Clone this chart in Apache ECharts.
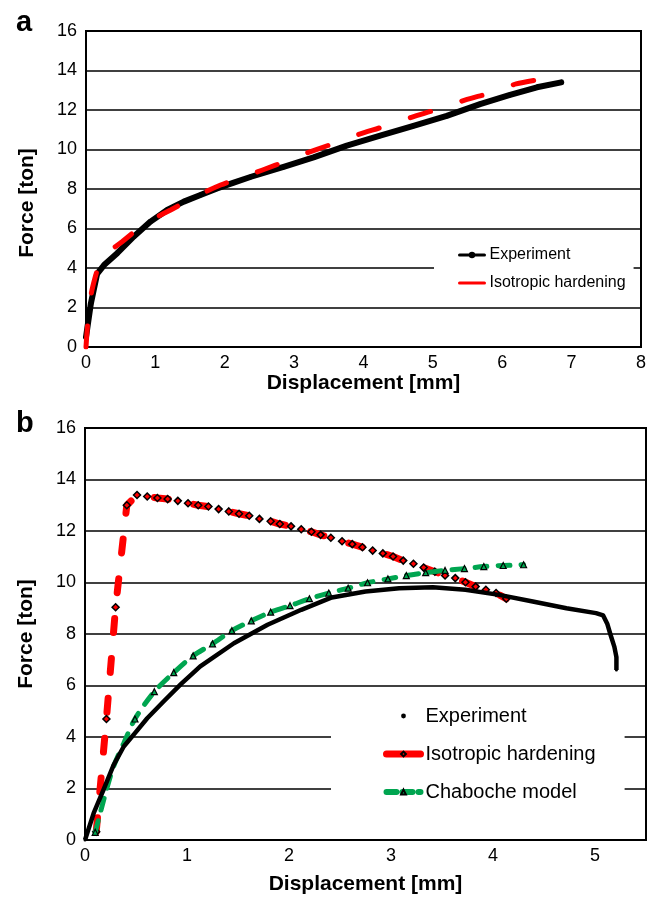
<!DOCTYPE html>
<html>
<head>
<meta charset="utf-8">
<script src="https://cdn.jsdelivr.net/npm/echarts@6/dist/echarts.min.js"></script>
<style>
html,body{margin:0;padding:0;background:#fff}
#main{width:662px;height:897px}
</style>
</head>
<body>
<div id="main"></div>
<script>
// ---- panel a : force vs displacement ----
var expAx = [0, 0.07, 0.16, 0.26, 0.45, 0.69, 0.93, 1.17, 1.41, 1.65, 1.89, 2.13, 2.38, 2.62, 2.86, 3.28, 3.76, 4.24, 4.72, 5.2, 5.68, 6.1, 6.5, 6.85];
var expAy = [0.5, 2.2, 3.7, 4.15, 4.75, 5.6, 6.35, 6.94, 7.36, 7.7, 8.03, 8.32, 8.62, 8.88, 9.13, 9.6, 10.2, 10.7, 11.2, 11.7, 12.3, 12.75, 13.15, 13.4];
var isoAx = [0, 0.04, 0.1, 0.24, 0.52, 0.86, 1.22, 1.58, 1.94, 2.35, 2.74, 3.13, 3.51, 3.9, 4.29, 4.69, 5.06, 5.46, 5.85, 6.2, 6.55];
var isoAy = [0, 1.8, 3.1, 4.5, 5.33, 6.26, 6.94, 7.61, 8.2, 8.71, 9.22, 9.76, 10.23, 10.73, 11.16, 11.63, 12.03, 12.5, 12.89, 13.32, 13.55];

// ---- panel b ----
var expBx = [0, 0.085, 0.18, 0.28, 0.38, 0.5, 0.61, 0.77, 0.94, 1.13, 1.46, 1.79, 2.12, 2.42, 2.75, 3.08, 3.41, 3.73, 4.06, 4.39, 4.72, 5.01, 5.08, 5.12, 5.15, 5.19, 5.21, 5.21];
var expBy = [0, 1.04, 1.94, 2.91, 3.63, 4.2, 4.73, 5.38, 6.05, 6.74, 7.64, 8.36, 8.94, 9.42, 9.65, 9.78, 9.82, 9.72, 9.52, 9.26, 9.0, 8.81, 8.72, 8.4, 8.0, 7.5, 7.1, 6.6];
var isoBx = [0.11, 0.21, 0.3, 0.41, 0.51, 0.61, 0.71, 0.81, 0.91, 1.01, 1.11, 1.21, 1.31, 1.41, 1.51, 1.61, 1.71, 1.82, 1.91, 2.02, 2.12, 2.22, 2.31, 2.41, 2.52, 2.62, 2.72, 2.82, 2.92, 3.02, 3.12, 3.22, 3.32, 3.43, 3.53, 3.63, 3.73, 3.83, 3.93, 4.03, 4.13];
var isoBy = [0.32, 4.7, 9.04, 13.0, 13.4, 13.34, 13.28, 13.24, 13.17, 13.08, 13.0, 12.95, 12.85, 12.76, 12.67, 12.59, 12.47, 12.38, 12.27, 12.18, 12.07, 11.97, 11.85, 11.74, 11.6, 11.49, 11.37, 11.24, 11.13, 11.01, 10.85, 10.73, 10.58, 10.42, 10.27, 10.17, 10.01, 9.84, 9.72, 9.59, 9.37];
var chaBx = [0.1, 0.2, 0.28, 0.38, 0.49, 0.68, 0.87, 1.06, 1.25, 1.44, 1.63, 1.82, 2.01, 2.2, 2.39, 2.58, 2.77, 2.97, 3.15, 3.34, 3.53, 3.72, 3.91, 4.1, 4.3];
var chaBy = [0.3, 1.8, 2.85, 3.76, 4.7, 5.76, 6.5, 7.15, 7.62, 8.13, 8.51, 8.85, 9.1, 9.37, 9.59, 9.78, 9.99, 10.14, 10.27, 10.38, 10.47, 10.54, 10.62, 10.66, 10.69];
var chaUnmarked = [1, 2, 3]; // curve points without a triangle

var yTicks = [0, 2, 4, 6, 8, 10, 12, 14, 16];

function pairs(xs, ys) {
  return xs.map(function (x, i) { return [x, ys[i]]; });
}
function cleanName(n) { return n.replace(/ \([ab]\)$/, ''); }

var FONT = '"Liberation Sans", Arial, Helvetica, sans-serif';

function xAxisCfg(grid, max, gap) {
  return {
    type: 'value', gridIndex: grid, min: 0, max: max, interval: 1,
    axisLine: { show: true, onZero: false, lineStyle: { color: '#000', width: 2 } },
    axisTick: { show: false },
    splitLine: { show: false },
    axisLabel: {
      color: '#000', fontSize: 18, fontFamily: FONT, margin: 7,
      formatter: function (v) { return v % 1 === 0 ? String(v) : ''; }
    },
    name: 'Displacement [mm]', nameLocation: 'middle', nameGap: gap,
    nameTextStyle: { color: '#000', fontSize: 21, fontWeight: 'bold', fontFamily: FONT }
  };
}
function yAxisCfg(grid, pad) {
  return {
    type: 'value', gridIndex: grid, min: yTicks[0], max: yTicks[yTicks.length - 1], interval: 2,
    axisLine: { show: true, onZero: false, lineStyle: { color: '#000', width: 2 } },
    axisTick: { show: false },
    splitLine: { show: true, lineStyle: { color: '#000', width: 1.5 } },
    axisLabel: { color: '#000', fontSize: 18, fontFamily: FONT, margin: 9 },
    name: 'Force [ton]', nameLocation: 'middle', nameGap: 48,
    nameTextStyle: { color: '#000', fontSize: 21, fontWeight: 'bold', fontFamily: FONT, padding: pad }
  };
}

var chart = echarts.init(document.getElementById('main'), null, { renderer: 'canvas' });
chart.setOption({
  animation: false,
  backgroundColor: '#fff',
  textStyle: { fontFamily: FONT },
  title: [
    { text: 'a', left: 11, top: 3, textStyle: { fontSize: 29, fontWeight: 'bold', color: '#000', fontFamily: FONT } },
    { text: 'b', left: 11, top: 404, textStyle: { fontSize: 29, fontWeight: 'bold', color: '#000', fontFamily: FONT } }
  ],
  grid: [
    { left: 86, top: 31, width: 555, height: 316, show: true, borderColor: '#000', borderWidth: 2, backgroundColor: 'transparent' },
    { left: 85, top: 428, width: 561, height: 412, show: true, borderColor: '#000', borderWidth: 2, backgroundColor: 'transparent' }
  ],
  xAxis: [xAxisCfg(0, 8, 25), xAxisCfg(1, 5.5, 34)],
  yAxis: [yAxisCfg(0, [0, 28, 0, 0]), yAxisCfg(1, 0)],
  legend: [
    {
      left: 434, top: 240, orient: 'vertical', selectedMode: false,
      backgroundColor: '#fff', padding: [7, 8, 8, 24],
      itemWidth: 25, itemHeight: 8, itemGap: 12, itemTextGap: 5,
      textStyle: { fontSize: 16, color: '#000', fontFamily: FONT },
      formatter: cleanName,
      data: [
        { name: 'Experiment (a)', lineStyle: { width: 3 } },
        { name: 'Isotropic hardening (a)', lineStyle: { width: 3, type: 'solid' }, itemStyle: { opacity: 0 } }
      ]
    },
    {
      left: 331, top: 697, orient: 'vertical', selectedMode: false,
      backgroundColor: '#fff', padding: [9, 29, 20, 52],
      itemWidth: 34, itemHeight: 6, itemGap: 18, itemTextGap: 6,
      textStyle: { fontSize: 20, color: '#000', fontFamily: FONT },
      formatter: cleanName,
      data: [
        { name: 'Experiment (b)', lineStyle: { width: 0 } },
        { name: 'Isotropic hardening (b)', lineStyle: { width: 7, type: 'solid', cap: 'round' } },
        { name: 'Chaboche model (b)', lineStyle: { width: 6, type: [10, 6], cap: 'round' } }
      ]
    }
  ],
  series: [
    {
      name: 'Experiment (a)', type: 'line', xAxisIndex: 0, yAxisIndex: 0,
      data: pairs(expAx, expAy),
      symbol: 'circle', symbolSize: 5, showSymbol: true,
      itemStyle: { color: '#000' },
      lineStyle: { color: '#000', width: 6, join: 'round', cap: 'round' },
      z: 2
    },
    {
      name: 'Isotropic hardening (a)', type: 'line', xAxisIndex: 0, yAxisIndex: 0,
      data: pairs(isoAx, isoAy),
      symbol: 'none', smooth: 0.3,
      itemStyle: { color: '#ff0000' },
      lineStyle: { color: '#ff0000', width: 5, type: [21, 33], cap: 'round' },
      z: 3
    },
    {
      name: 'Experiment (b)', type: 'line', xAxisIndex: 1, yAxisIndex: 1,
      data: pairs(expBx, expBy),
      symbol: 'circle', symbolSize: 3, showSymbol: true,
      itemStyle: { color: '#000' },
      lineStyle: { color: '#000', width: 4.5, join: 'round' },
      z: 4
    },
    {
      name: 'Isotropic hardening (b)', type: 'line', xAxisIndex: 1, yAxisIndex: 1,
      data: pairs(isoBx, isoBy),
      symbol: 'diamond', symbolSize: 7, showSymbol: true,
      itemStyle: { color: '#ff0000', borderColor: '#000', borderWidth: 1.5 },
      lineStyle: { color: '#ff0000', width: 7, type: [14, 26], cap: 'round' },
      z: 2
    },
    {
      name: 'Chaboche model (b)', type: 'line', xAxisIndex: 1, yAxisIndex: 1,
      data: pairs(chaBx, chaBy),
      symbol: 'triangle',
      symbolSize: function (v, p) { return chaUnmarked.indexOf(p.dataIndex) >= 0 ? 0 : 6; },
      showSymbol: true, smooth: 0.3,
      itemStyle: { color: '#00a550', borderColor: '#000', borderWidth: 1.2 },
      lineStyle: { color: '#00a550', width: 5, type: [12, 11], cap: 'round' },
      z: 3
    }
  ]
});
</script>
</body>
</html>
